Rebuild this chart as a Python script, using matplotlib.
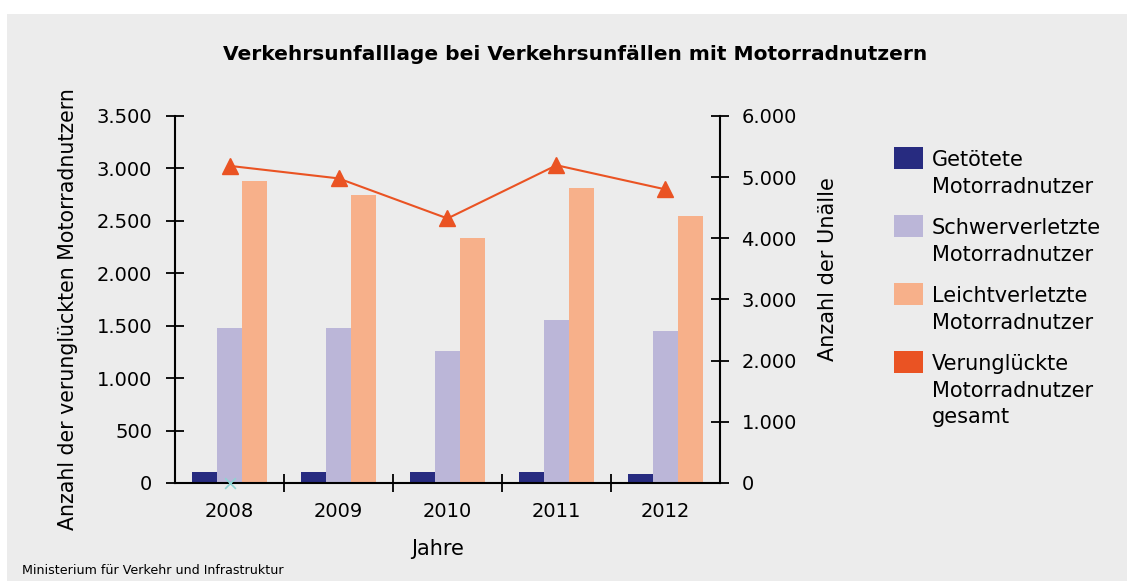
import numpy as np
import matplotlib
matplotlib.use('Agg')
import matplotlib.pyplot as plt
from matplotlib.patches import Rectangle
from matplotlib.ticker import FuncFormatter

plt.rcParams['font.family'] = ['DejaVu Sans']

# data
years = ['2008', '2009', '2010', '2011', '2012']
getoetete = [105, 105, 105, 105, 90]
schwerverletzte = [1480, 1480, 1260, 1550, 1445]
leichtverletzte = [2880, 2745, 2335, 2810, 2545]
gesamt = [5185, 4980, 4325, 5195, 4800]

labels = ['Getötete\nMotorradnutzer', 'Schwerverletzte\nMotorradnutzer',
          'Leichtverletzte\nMotorradnutzer', 'Verunglückte\nMotorradnutzer\ngesamt']
colors = ['#272b80', '#bbb6d8', '#f7b08a', '#ea5323']

W, H = 1127, 581
fig = plt.figure(figsize=(W / 100, H / 100), dpi=100)
fig.patch.set_facecolor('white')
fig.patches.append(Rectangle((7 / W, 0), 1, 1 - 14 / H, transform=fig.transFigure,
                             facecolor='#ececec', edgecolor='none', zorder=-10))

ax = fig.add_axes([175 / W, 1 - 483 / H, (720 - 175) / W, (483 - 116) / H])
ax.set_facecolor('none')
x = np.arange(len(years))
bw = 0.23
ax.bar(x - bw, getoetete, bw, color=colors[0], zorder=2)
ax.bar(x, schwerverletzte, bw, color=colors[1], zorder=2)
ax.bar(x + bw, leichtverletzte, bw, color=colors[2], zorder=2)
ax.scatter([0], [0], marker='x', s=60, color='#8fd3d3', linewidths=1.2, zorder=3, clip_on=False)

ax.set_xlim(-0.5, 4.5)
ax.set_ylim(0, 3500)
ax.set_yticks(np.arange(0, 3501, 500))
fmt = FuncFormatter(lambda v, p: f'{int(v):,}'.replace(',', '.'))
ax.yaxis.set_major_formatter(fmt)
ax.set_xticks(x)
ax.set_xticklabels(years)
ax.set_xticks(np.arange(0.5, 4.0, 1.0), minor=True)
ax.tick_params(axis='x', which='major', length=0, pad=14, labelsize=14)
ax.tick_params(axis='x', which='minor', direction='inout', length=13, width=1.3)
ax.tick_params(axis='y', direction='inout', length=13, width=1.3, pad=10, labelsize=14)
for s in ['top', 'right']:
    ax.spines[s].set_visible(False)
for s in ['left', 'bottom']:
    ax.spines[s].set_linewidth(1.5)

ax2 = ax.twinx()
ax2.plot(x, gesamt, color=colors[3], lw=1.5, marker='^', markersize=11, zorder=4)
ax2.set_ylim(0, 6000)
ax2.set_yticks(np.arange(0, 6001, 1000))
ax2.yaxis.set_major_formatter(fmt)
ax2.tick_params(axis='y', direction='inout', length=13, width=1.3, pad=9, labelsize=14)
for s in ['top', 'left', 'bottom']:
    ax2.spines[s].set_visible(False)
ax2.spines['right'].set_linewidth(1.5)

fig.text(575 / W, 1 - 55 / H, 'Verkehrsunfalllage bei Verkehrsunfällen mit Motorradnutzern',
         ha='center', va='center', fontsize=14.5, fontweight='bold')
fig.text(68 / W, 1 - 309 / H, 'Anzahl der verunglückten Motorradnutzern',
         ha='center', va='center', rotation=90, fontsize=14.8)
fig.text(828 / W, 1 - 269 / H, 'Anzahl der Unälle',
         ha='center', va='center', rotation=90, fontsize=15)
fig.text(438 / W, 1 - 549 / H, 'Jahre', ha='center', va='center', fontsize=15)
fig.text(22 / W, 1 - 570 / H, 'Ministerium für Verkehr und Infrastruktur',
         ha='left', va='center', fontsize=9.1)

# legend
for i, (lab, c) in enumerate(zip(labels, colors)):
    top = 147 + i * 68
    fig.patches.append(Rectangle((894 / W, 1 - (top + 22) / H), 29 / W, 22 / H,
                                 transform=fig.transFigure, facecolor=c, edgecolor='none'))
    fig.text(932 / W, 1 - (top + 3) / H, lab, ha='left', va='top', fontsize=15,
             linespacing=1.42)

fig.savefig('out.png', dpi=100, facecolor=fig.get_facecolor())
